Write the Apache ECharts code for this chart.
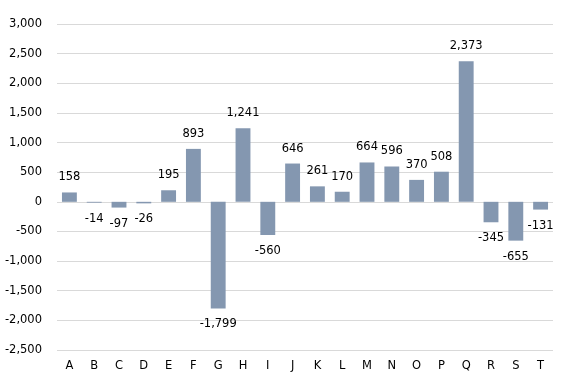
<!DOCTYPE html>
<html><head><meta charset="utf-8">
<script src="https://cdn.jsdelivr.net/npm/echarts@6/dist/echarts.min.js"></script>
<style>html,body{margin:0;padding:0;background:#fff}#c{width:567px;height:381px}</style>
</head><body><div id="c"></div>
<script>
const categories = ['A','B','C','D','E','F','G','H','I','J','K','L','M','N','O','P','Q','R','S','T'];
const values = [158,-14,-97,-26,195,893,-1799,1241,-560,646,261,170,664,596,370,508,2373,-345,-655,-131];
const yMin = -2500, yMax = 3000, yStep = 500;
const fmt = v => v.toLocaleString('en-US');
const chart = echarts.init(document.getElementById('c'), null, {renderer:'canvas'});
chart.setOption({
  animation:false,
  textStyle:{fontFamily:'DejaVu Sans'},
  grid:{left:57,right:14,top:24,bottom:31,containLabel:false},
  xAxis:{type:'category',data:categories,
    axisLine:{show:false,onZero:false},axisTick:{show:false},
    axisLabel:{color:'#000',fontSize:11.5,fontFamily:'DejaVu Sans',margin:10}},
  yAxis:{type:'value',min:yMin,max:yMax,interval:yStep,
    axisLine:{show:false},axisTick:{show:false},
    splitLine:{lineStyle:{color:'#d9d9d9',width:1}},
    axisLabel:{color:'#000',fontSize:11.5,fontFamily:'DejaVu Sans',margin:15,formatter:fmt}},
  series:[{type:'bar',barWidth:'60%',
    data:values.map(v=>({value:v,label:{position:v>=0?'top':'bottom',distance:v>=0?9:10}})),
    itemStyle:{color:'#8497b0'},
    label:{show:true,color:'#000',fontSize:11.5,fontFamily:'DejaVu Sans',formatter:p=>fmt(p.value)}}]
});
</script></body></html>
